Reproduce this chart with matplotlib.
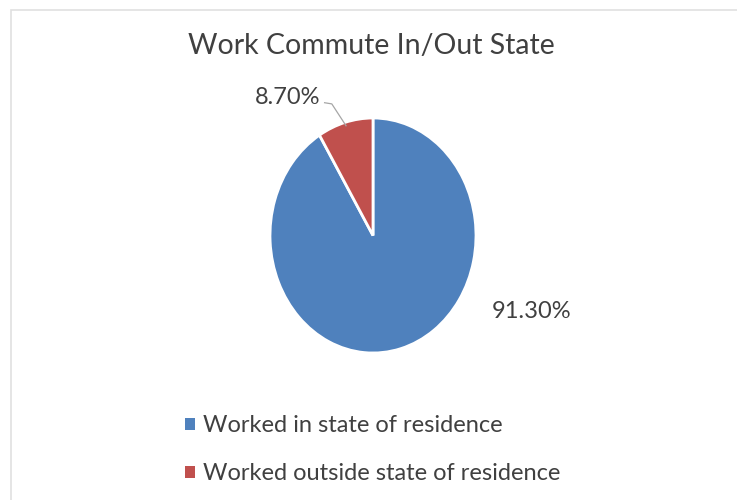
import numpy as np
import matplotlib.pyplot as plt
from matplotlib.patches import Rectangle

plt.rcParams['font.family'] = ['Lato', 'DejaVu Sans']

# data
categories = ['Worked in state of residence', 'Worked outside state of residence']
shares = [91.30, 8.70]
colors = ['#4f81bd', '#c0504d']
title = 'Work Commute In/Out State'

fig = plt.figure(figsize=(7.37, 5.0), dpi=100)

# light frame of the chart area (only top and left edges show)
fig.patches.append(Rectangle((11 / 737, -0.01), 1.0, (500 - 10) / 500 + 0.01,
                             transform=fig.transFigure, fill=False,
                             edgecolor='#e0e0e0', linewidth=1.2))

# pie is slightly squeezed horizontally in the reference, so use a non-equal aspect
ax = fig.add_axes([270 / 737, 147 / 500, 206 / 737, 235 / 500])
wedges, _ = ax.pie(shares, colors=colors, startangle=90, counterclock=False,
                   wedgeprops=dict(edgecolor='white', linewidth=2))
ax.set_aspect('auto')
ax.set_xlim(-1, 1)
ax.set_ylim(-1, 1)

# data labels
lab_color = '#404040'
fig.text(532 / 737, 1 - 312 / 500, f'{shares[0]:.2f}%', fontsize=17,
         color=lab_color, ha='center', va='center')
fig.text(288 / 737, 1 - 98 / 500, f'{shares[1]:.2f}%', fontsize=17,
         color=lab_color, ha='center', va='center')

# leader line for the small slice
mid = np.deg2rad(90 + 360 * shares[1] / 100 / 2)
ax.plot([-0.47, -0.40, np.cos(mid) * 0.97], [1.13, 1.12, np.sin(mid) * 0.97],
        color='#a6a6a6', lw=0.9, clip_on=False)

fig.text(371 / 737, 1 - 46 / 500, title, fontsize=20.5, color='#404040',
         ha='center', va='center')

leg = fig.legend(wedges, categories, loc='upper left',
                 bbox_to_anchor=(164 / 737, 1 - 394 / 500), frameon=False,
                 fontsize=17, labelcolor='#404040', handlelength=0.4,
                 handleheight=0.4, handletextpad=0.35, labelspacing=1.15)
for h in leg.legend_handles:
    h.set_edgecolor('none')

fig.savefig('out.png', dpi=100)
